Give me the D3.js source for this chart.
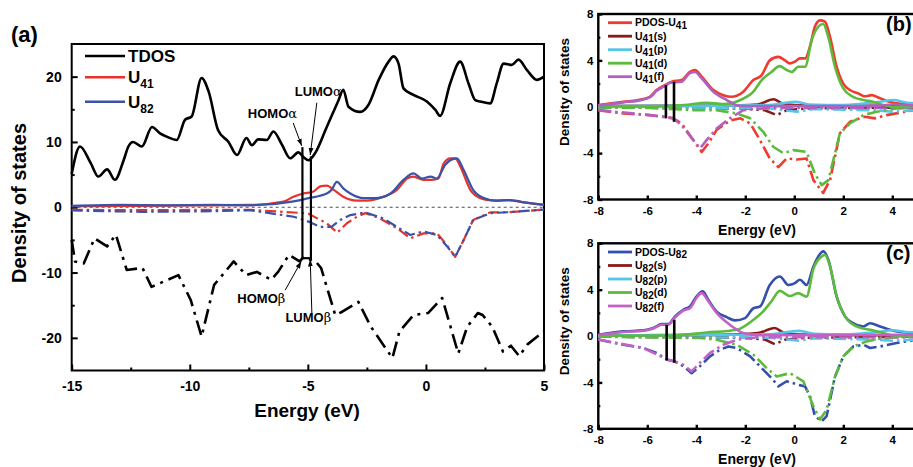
<!DOCTYPE html>
<html>
<head>
<meta charset="utf-8">
<script src="https://cdn.jsdelivr.net/npm/d3@7"></script>
<style>
  body { margin: 0; background: #fff; }
  svg { display: block; font-family: Arial, "Liberation Sans", sans-serif; font-weight: bold; }
</style>
</head>
<body>
<svg id="chart" width="913" height="467"></svg>
<script>
// ---- panel (a): total DOS and U41 / U82, spin up (positive) and spin down (negative) ----
const tdosUp = [[-15,5.1],[-14.65,9.3],[-14.2,6.8],[-13.87,4.7],[-13.5,5.8],[-13.17,4.2],[-12.8,7.2],[-12.6,9.3],[-12.4,10],[-12.03,9.3],[-11.6,12.3],[-11.26,11.3],[-10.97,10.8],[-10.55,10.3],[-10.2,13.4],[-9.92,13.9],[-9.5,19.8],[-9.2,17.7],[-8.8,11.8],[-8.36,10],[-8.0,8],[-7.6,10.6],[-7.37,9.5],[-7.1,10.4],[-6.74,10.3],[-6.46,11.6],[-6.1,9.6],[-5.75,7.5],[-5.4,8.4],[-5.19,7.7],[-4.97,7.2],[-4.69,8.3],[-4.2,12.3],[-3.7,16.4],[-3.5,18],[-3.28,15.4],[-2.78,14.6],[-2.43,15.7],[-2.0,19.5],[-1.58,22.3],[-1.37,23.1],[-1.16,22],[-0.95,18.2],[-0.53,17.2],[0.04,16.2],[0.4,14.9],[0.6,14],[1.03,19],[1.45,22.3],[1.8,19],[2.09,16.4],[2.3,16.2],[2.72,15.9],[3.0,19],[3.29,22],[3.64,21.8],[3.92,22.6],[4.28,21],[4.7,19.5],[5,20]];
const tdosDown = [[-15,-5],[-14.86,-8.3],[-14.49,-8.6],[-14.03,-4.75],[-13.8,-5.3],[-13.5,-6],[-13.13,-4.2],[-12.67,-9.6],[-12.0,-9.3],[-11.62,-12.2],[-10.48,-10.4],[-9.96,-14.2],[-9.5,-19.8],[-8.97,-11.9],[-8.14,-8.3],[-7.61,-10.4],[-7.16,-9.9],[-6.55,-11.1],[-6.26,-9.9],[-5.8,-7.3],[-5.35,-8.3],[-5.2,-7.7],[-4.67,-8.3],[-4.44,-9.3],[-3.84,-16.5],[-3.54,-16],[-2.86,-14.5],[-2.33,-18.3],[-1.42,-23.1],[-1.12,-19],[-0.52,-16.5],[0.09,-16.2],[0.69,-13.9],[1.37,-22.4],[1.75,-18.3],[2.2,-16.2],[2.4,-16.5],[2.81,-18.3],[3.26,-22.1],[3.6,-21.2],[3.95,-22.8],[4.3,-21],[5,-19]];
const u41Up = [[-15,0.15],[-13,0.2],[-11,0.25],[-9,0.3],[-7.45,0.35],[-6.03,0.86],[-5.61,1.6],[-5.19,2.1],[-4.76,2.4],[-4.48,3.2],[-4.2,3.3],[-3.9,2.65],[-3.5,1.6],[-2.92,1.0],[-2.5,1.0],[-1.8,1.6],[-1.23,2.65],[-0.8,4.4],[-0.53,4.7],[-0.1,4.2],[0.25,4.2],[0.53,4.4],[0.75,6.7],[1.03,7.5],[1.24,7.5],[1.45,6.3],[1.88,2.65],[2.3,1.4],[2.87,1.0],[3.4,1.1],[4.25,0.7],[5,0.35]];
const u82Up = [[-15,0.2],[-13,0.35],[-11,0.3],[-9,0.35],[-7.45,0.3],[-5.6,0.9],[-4.97,1.4],[-4.2,2.1],[-4.0,2.65],[-3.77,3.9],[-3.5,2.9],[-3.2,2.1],[-2.64,1.4],[-2.1,1.4],[-1.5,2.1],[-0.95,4.2],[-0.53,5.2],[-0.17,4.4],[0.2,4.7],[0.45,4.4],[0.82,6.5],[1.03,7.2],[1.31,7.5],[1.6,5.7],[2.0,2.65],[2.45,1.4],[3.0,1.0],[3.55,1.1],[4.25,0.7],[5,0.35]];
const u41Down = [[-15,-0.4],[-12,-0.45],[-9,-0.4],[-7.45,-0.4],[-5.6,-0.8],[-5.2,-0.9],[-4.97,-1.0],[-4.6,-1.7],[-4.2,-2.45],[-3.75,-3.9],[-3.35,-2.45],[-2.92,-1.45],[-2.57,-0.9],[-1.95,-1.7],[-1.23,-3.2],[-0.66,-4.75],[-0.1,-4.0],[0.47,-4.0],[0.82,-5.5],[1.24,-7.6],[1.6,-5.0],[2.0,-1.95],[2.72,-0.8],[3.55,-0.75],[5,-0.35]];
const u82Down = [[-15,-0.5],[-12,-0.7],[-9,-0.6],[-7.45,-0.45],[-5.6,-1.45],[-4.97,-2.2],[-4.48,-3.0],[-4.0,-3.0],[-3.63,-1.95],[-3.2,-1.2],[-2.57,-0.8],[-1.8,-1.7],[-1.23,-3.0],[-0.66,-4.25],[-0.1,-3.7],[0.47,-4.25],[0.9,-6.0],[1.24,-7.6],[1.6,-5],[2.0,-1.95],[2.72,-0.9],[3.55,-0.75],[5,-0.35]];

// HOMO/LUMO gap box in (a): [energy, top, bottom]
const gapA = [[-5.23, 9.2, -7.8], [-4.87, 7.8, -7.8]];
// labels: text, label pos [E, D], arrow from, arrow to
const gapLabels = [
  { t: 'HOMO', g: 'α', at: [-6.5, 13.7], from: [-5.62, 12.9], to: [-5.26, 9.4] },
  { t: 'LUMO', g: 'α', at: [-4.56, 17.0], from: [-4.62, 16.0], to: [-4.9, 8.0] },
  { t: 'HOMO', g: 'β', at: [-6.97, -14.7], from: [-5.96, -12.7], to: [-5.28, -8.3] },
  { t: 'LUMO', g: 'β', at: [-4.98, -17.6], from: [-4.83, -16.2], to: [-4.9, -8.0] }
];

// ---- panel (b): PDOS of U41 ----
const pdos41Up = [[-8,0.15],[-6.98,0.43],[-6.37,0.58],[-5.9,0.86],[-5.62,1.44],[-5.28,1.87],[-5.0,2.16],[-4.6,2.3],[-4.26,3.0],[-4.05,3.17],[-3.78,2.6],[-3.3,1.44],[-2.9,1.0],[-2.56,0.86],[-2.08,1.3],[-1.67,2.3],[-1.33,2.73],[-1.0,4.0],[-0.65,4.3],[-0.38,4.0],[-0.18,3.74],[0.03,3.9],[0.23,4.17],[0.44,4.17],[0.64,5.2],[0.84,6.9],[1.05,7.45],[1.25,7.34],[1.46,6.0],[1.73,3.45],[2.0,2.0],[2.27,1.44],[2.61,1.15],[2.88,0.9],[3.16,1.0],[3.43,0.8],[3.77,0.5],[4.18,0.3],[4.72,0.25],[5,0.2]];
const s41Up = [[-8,0.05],[-3,0.1],[-1.5,0.2],[-0.85,0.65],[-0.5,0.3],[0,0.15],[2,0.1],[5,0.05]];
const p41Up = [[-8,0.05],[-3,0.1],[-1,0.15],[0.03,0.43],[0.6,0.2],[2,0.15],[3.4,0.4],[4.04,0.58],[4.6,0.35],[5,0.3]];
const d41Up = [[-8,0.05],[-5.9,0.02],[-4.5,0.15],[-3.58,0.35],[-2.9,0.23],[-2.2,0.58],[-1.67,1.3],[-1.33,2.3],[-0.93,3.0],[-0.6,3.5],[-0.31,3.17],[-0.1,3.0],[0.16,3.45],[0.44,3.45],[0.71,5.76],[0.98,6.9],[1.18,7.14],[1.39,6.0],[1.66,3.45],[2.0,1.58],[2.4,0.86],[2.82,0.58],[3.22,0.43],[3.63,0.15],[4.18,-0.05],[5,0]];
const f41Up = [[-8,0.1],[-6.98,0.38],[-6.37,0.53],[-5.9,0.8],[-5.62,1.38],[-5.28,1.8],[-5.07,2.07],[-4.6,2.16],[-4.26,2.9],[-4.05,3.0],[-3.78,2.45],[-3.3,1.3],[-2.76,0.58],[-2.2,0.06],[-1,0.05],[2,0.05],[3.5,0.1],[4,0.2],[5,0.1]];
const pdos41Down = [[-8,-0.29],[-6.98,-0.58],[-5.9,-0.72],[-5.28,-0.86],[-4.94,-1.0],[-4.6,-1.44],[-4.12,-2.88],[-3.78,-3.9],[-3.51,-3.17],[-3.17,-2.0],[-2.63,-1.2],[-2.2,-1.0],[-1.8,-1.44],[-1.4,-2.88],[-1.0,-4.46],[-0.65,-5.2],[-0.31,-4.46],[0.1,-4.55],[0.5,-4.46],[0.78,-6.33],[1.18,-7.43],[1.46,-6.33],[1.86,-2.3],[2.27,-1.3],[2.88,-0.86],[3.3,-1.0],[3.77,-0.72],[5,-0.25]];
const s41Down = [[-8,-0.05],[-2,-0.15],[-1.2,-0.3],[-0.72,-0.72],[-0.3,-0.3],[0.5,-0.15],[5,-0.05]];
const p41Down = [[-8,-0.05],[-1,-0.15],[0.1,-0.43],[0.8,-0.2],[3.3,-0.3],[4.0,-0.43],[5,-0.3]];
const d41Down = [[-8,-0.05],[-5.9,-0.1],[-4.12,-0.29],[-3.17,-0.29],[-2.35,-0.58],[-1.8,-1.0],[-1.27,-2.16],[-0.86,-3.45],[-0.45,-4.0],[-0.04,-3.74],[0.5,-3.9],[0.84,-5.76],[1.12,-6.76],[1.39,-6.33],[1.86,-2.3],[2.27,-1.44],[2.82,-0.72],[3.36,-0.43],[4.18,-0.14],[5,-0.1]];
const f41Down = [[-8,-0.29],[-5.9,-0.72],[-4.94,-1.0],[-4.6,-1.6],[-4.12,-2.88],[-3.85,-3.6],[-3.58,-2.88],[-3.17,-1.87],[-2.63,-1.0],[-2.08,-0.29],[-1,-0.1],[5,-0.1]];
const gapB = [[-5.24, 1.87, -1.0], [-4.91, 2.16, -1.3]];

// ---- panel (c): PDOS of U82 ----
const pdos82Up = [[-8,0.1],[-6.98,0.4],[-6.16,0.49],[-5.76,0.69],[-5.41,1.03],[-5.14,1.03],[-4.87,1.7],[-4.53,2.27],[-4.26,2.55],[-3.99,3.42],[-3.74,3.85],[-3.51,3.13],[-3.17,2.1],[-2.76,1.63],[-2.42,1.35],[-2.01,1.55],[-1.67,2.4],[-1.4,2.55],[-1.0,4.4],[-0.59,5.14],[-0.24,4.4],[0.03,4.57],[0.23,4.85],[0.5,4.4],[0.78,6.0],[0.98,6.87],[1.18,7.3],[1.39,6.58],[1.73,3.4],[2.07,1.7],[2.41,1.1],[2.82,0.83],[3.09,1.1],[3.5,0.83],[3.9,0.54],[4.84,0.26],[5,0.25]];
const s82Up = [[-8,0.05],[-3,0.1],[-1.5,0.25],[-0.8,0.7],[-0.45,0.3],[0,0.15],[2,0.1],[5,0.05]];
const p82Up = [[-8,0.05],[-3,0.1],[-1,0.15],[0.2,0.45],[0.8,0.2],[2,0.15],[3.4,0.35],[4.0,0.5],[4.6,0.35],[5,0.3]];
const d82Up = [[-8,0.02],[-5,0.05],[-3.58,0.3],[-2.35,0.54],[-1.67,1.4],[-1.33,2.0],[-0.93,3.0],[-0.59,3.9],[-0.18,3.45],[0.16,3.7],[0.5,3.4],[0.78,5.8],[1.12,6.87],[1.25,7.0],[1.46,6.0],[1.73,3.4],[2.07,1.7],[2.54,0.83],[3.09,0.54],[3.63,0.26],[4.18,0],[5,-0.05]];
const f82Up = [[-8,0.08],[-6.98,0.35],[-6.16,0.45],[-5.76,0.65],[-5.41,0.97],[-5.14,0.98],[-4.87,1.6],[-4.53,2.2],[-4.26,2.4],[-3.99,3.3],[-3.78,3.7],[-3.51,3.0],[-3.17,2.0],[-2.63,0.97],[-2.08,0.26],[-1.5,0.08],[5,0.1]];
const pdos82Down = [[-8,-0.3],[-6.98,-0.75],[-6.16,-1.03],[-5.62,-1.46],[-5.2,-2.04],[-4.87,-2.18],[-4.53,-2.6],[-4.19,-3.2],[-3.85,-2.6],[-3.44,-1.75],[-3.03,-1.18],[-2.69,-0.9],[-2.35,-1.03],[-1.8,-1.75],[-1.27,-2.9],[-0.93,-3.62],[-0.65,-4.34],[-0.31,-3.9],[0.16,-4.2],[0.44,-4.34],[0.64,-5.2],[0.84,-6.9],[1.12,-7.35],[1.32,-6.9],[1.66,-3.5],[2.0,-1.75],[2.41,-0.9],[2.82,-0.75],[3.09,-1.03],[3.5,-0.9],[4.18,-0.6],[5,-0.3]];
const s82Down = [[-8,-0.05],[-2,-0.15],[-1.2,-0.3],[-0.8,-0.7],[-0.35,-0.3],[0.5,-0.15],[5,-0.05]];
const p82Down = [[-8,-0.05],[-1,-0.15],[0.2,-0.4],[0.8,-0.2],[3.3,-0.3],[4.0,-0.4],[5,-0.3]];
const d82Down = [[-8,-0.05],[-3.85,-0.17],[-3.17,-0.32],[-2.35,-0.75],[-1.67,-1.6],[-1.13,-2.76],[-0.72,-3.48],[-0.18,-3.2],[0.37,-3.9],[0.78,-6.06],[1.05,-7.2],[1.32,-6.35],[1.66,-3.5],[2.0,-1.75],[2.41,-0.9],[2.95,-0.46],[3.63,-0.17],[5,-0.05]];
const f82Down = [[-8,-0.3],[-6.16,-1.03],[-5.2,-2.0],[-4.53,-2.47],[-4.19,-3.05],[-3.85,-2.3],[-3.44,-1.46],[-2.9,-0.75],[-2.35,-0.32],[-1.5,-0.1],[5,-0.1]];
const gapC = [[-5.21, 0.97, -2.1], [-4.9, 1.4, -2.3]];

// ticks
const xTicksA = [-15, -10, -5, 0, 5];
const xMinorA = [-12.5, -7.5, -2.5, 2.5];
const yTicksA = [-20, -10, 0, 10, 20];
const yMinorA = [-15, -5, 5, 15];
const xTicksB = [-8, -6, -4, -2, 0, 2, 4];
const yTicksB = [-8, -4, 0, 4, 8];
const yMinorB = [-6, -2, 2, 6];

const C = {
  black: '#000', red: '#e8332b', blue: '#3a52a8',
  pred: '#ef3a2f', pblue: '#3450ab', maroon: '#8a1b1b', cyan: '#56c6e8', green: '#5cba3c', purple: '#b060c0', magenta: '#c262c6'
};

const svg = d3.select('#chart');

svg.append('defs').append('marker')
  .attr('id', 'arr').attr('viewBox', '0 0 10 10').attr('refX', 10).attr('refY', 5)
  .attr('markerWidth', 7).attr('markerHeight', 7).attr('markerUnits', 'userSpaceOnUse')
  .attr('orient', 'auto')
  .append('path').attr('d', 'M0,1.5L10,5L0,8.5z').attr('fill', '#000');

// draws inward ticks, labels and the box
function axesFrame(x, y, o) {
  const [x0, x1] = x.range();
  const [y1, y0] = y.range();
  const g = svg.append('g');
  const fmt = d => String(d);

  g.append('g').attr('transform', `translate(0,${y1})`)
    .call(d3.axisBottom(x).tickValues(o.xt).tickSize(-o.tick).tickPadding(o.padX).tickFormat(fmt));
  if (o.xm) g.append('g').attr('transform', `translate(0,${y1})`)
    .call(d3.axisBottom(x).tickValues(o.xm).tickSize(-o.tick / 2).tickFormat(''));
  g.append('g').attr('transform', `translate(${x0},0)`)
    .call(d3.axisLeft(y).tickValues(o.yt).tickSize(-o.tick).tickPadding(o.padY).tickFormat(fmt));
  if (o.ym) g.append('g').attr('transform', `translate(${x0},0)`)
    .call(d3.axisLeft(y).tickValues(o.ym).tickSize(-o.tick / 2).tickFormat(''));

  g.selectAll('.domain').remove();
  g.selectAll('.tick line').attr('stroke', '#000').attr('stroke-width', o.sw);
  g.selectAll('.tick text').attr('fill', '#000').attr('font-size', o.fs)
    .attr('font-weight', 'bold').attr('font-family', 'Arial, "Liberation Sans", sans-serif');

  g.append('rect').attr('x', x0).attr('y', y0).attr('width', x1 - x0).attr('height', y1 - y0)
    .attr('fill', 'none').attr('stroke', '#000').attr('stroke-width', o.sw);
}

function curve(x, y, data, color, w, dash, smooth) {
  const line = d3.line().x(d => x(d[0])).y(d => y(d[1]))
    .curve(smooth ? d3.curveMonotoneX : d3.curveLinear);
  svg.append('path').datum(data).attr('d', line)
    .attr('fill', 'none').attr('stroke', color).attr('stroke-width', w)
    .attr('stroke-linejoin', 'round')
    .attr('stroke-dasharray', dash || null);
}

function gapBars(x, y, data, w, closed) {
  data.forEach(d => {
    svg.append('line').attr('x1', x(d[0])).attr('x2', x(d[0]))
      .attr('y1', y(d[1])).attr('y2', y(d[2]))
      .attr('stroke', '#000').attr('stroke-width', w);
  });
  if (closed) {
    svg.append('line').attr('x1', x(data[0][0]) - w / 2).attr('x2', x(data[1][0]) + w / 2)
      .attr('y1', y(data[0][2])).attr('y2', y(data[1][2]))
      .attr('stroke', '#000').attr('stroke-width', w);
  }
}

function subText(sel, main, sub, tail, subSize, dy) {
  sel.append('tspan').text(main);
  sel.append('tspan').attr('font-size', subSize).attr('dy', dy).text(sub);
  if (tail) sel.append('tspan').attr('dy', -dy).text(tail);
}

// ================= panel (a) =================
const xA = d3.scaleLinear().domain([-15, 5]).range([71.7, 544]);
const yA = d3.scaleLinear().domain([-25, 25]).range([370.5, 44]);

axesFrame(xA, yA, { xt: xTicksA, xm: xMinorA, yt: yTicksA, ym: yMinorA, tick: 6, padX: 11, padY: 10, fs: 14, sw: 2 });

svg.append('line').attr('x1', xA(-15)).attr('x2', xA(5)).attr('y1', yA(0)).attr('y2', yA(0))
  .attr('stroke', '#222').attr('stroke-width', 0.8).attr('stroke-dasharray', '3,3');

curve(xA, yA, tdosUp, C.black, 2.6, null, true);
curve(xA, yA, tdosDown, C.black, 2.6, '15,6,3,6', false);
curve(xA, yA, u41Up, C.red, 2.2, null, true);
curve(xA, yA, u41Down, C.red, 2.2, '11,4,2.5,4', false);
curve(xA, yA, u82Up, C.blue, 2.2, null, true);
curve(xA, yA, u82Down, C.blue, 2.2, '11,4,2.5,4', false);

gapBars(xA, yA, gapA, 2.2, true);

gapLabels.forEach(l => {
  const t = svg.append('text').attr('x', xA(l.at[0])).attr('y', yA(l.at[1]))
    .attr('text-anchor', 'middle').attr('font-size', 13);
  t.append('tspan').text(l.t);
  t.append('tspan').attr('font-family', '"DejaVu Serif", serif').attr('font-weight', 'normal').text(l.g);
  svg.append('line').attr('x1', xA(l.from[0])).attr('y1', yA(l.from[1]))
    .attr('x2', xA(l.to[0])).attr('y2', yA(l.to[1]))
    .attr('stroke', '#000').attr('stroke-width', 1).attr('marker-end', 'url(#arr)');
});

// legend (a)
const legA = [
  { name: 'TDOS', color: C.black, y: 56 },
  { name: 'U', sub: '41', color: C.red, y: 77.3 },
  { name: 'U', sub: '82', color: C.blue, y: 101.7 }
];
legA.forEach(d => {
  svg.append('line').attr('x1', 85).attr('x2', 125).attr('y1', d.y).attr('y2', d.y)
    .attr('stroke', d.color).attr('stroke-width', 2.6);
  const t = svg.append('text').attr('x', 128).attr('y', d.y + 6).attr('font-size', 17);
  if (d.sub) subText(t, d.name, d.sub, null, 12, 5);
  else t.text(d.name);
});

svg.append('text').attr('x', 307).attr('y', 417).attr('text-anchor', 'middle').attr('font-size', 19).text('Energy (eV)');
svg.append('text').attr('transform', 'translate(26,203) rotate(-90)').attr('text-anchor', 'middle').attr('font-size', 20).text('Density of states');
svg.append('text').attr('x', 11).attr('y', 42).attr('font-size', 22).text('(a)');

// ================= panels (b) and (c) =================
function pdosPanel(top, seriesUp, seriesDown, colors, gap, tag, atom) {
  const x = d3.scaleLinear().domain([-8, 5]).range([598.3, 598.3 + 13 * 24.5]);
  const y = d3.scaleLinear().domain([-8, 8]).range([top + 185.5, top]);
  axesFrame(x, y, { xt: xTicksB, yt: yTicksB, ym: yMinorB, tick: 4, padX: 7, padY: 5, fs: 11.5, sw: 2.4 });

  seriesDown.forEach((s, i) => curve(x, y, s, colors[i], 2.6, '13,4,2.5,4', false));
  seriesUp.forEach((s, i) => curve(x, y, s, colors[i], 2.6, null, true));
  gapBars(x, y, gap, 2.6, false);

  const names = [['PDOS-U', ''], ['U', '(s)'], ['U', '(p)'], ['U', '(d)'], ['U', '(f)']];
  names.forEach((n, i) => {
    const ly = top + 8.7 + i * 13.5;
    svg.append('line').attr('x1', 608).attr('x2', 632).attr('y1', ly).attr('y2', ly)
      .attr('stroke', colors[i]).attr('stroke-width', 2.8);
    const t = svg.append('text').attr('x', 635).attr('y', ly + 3.5).attr('font-size', 10.5);
    subText(t, n[0], atom, n[1], 10, 2.5);
  });

  svg.append('text').attr('x', 757).attr('y', top + 221).attr('text-anchor', 'middle').attr('font-size', 14).text('Energy (eV)');
  svg.append('text').attr('transform', `translate(569,${top + 78}) rotate(-90)`).attr('text-anchor', 'middle')
    .attr('font-size', 13.5).text('Density of states');
  svg.append('text').attr('x', 886).attr('y', top + 17).attr('font-size', 20).text(tag);
}

pdosPanel(14,
  [pdos41Up, s41Up, p41Up, d41Up, f41Up],
  [pdos41Down, s41Down, p41Down, d41Down, f41Down],
  [C.pred, C.maroon, C.cyan, C.green, C.purple], gapB, '(b)', '41');

pdosPanel(243.3,
  [pdos82Up, s82Up, p82Up, d82Up, f82Up],
  [pdos82Down, s82Down, p82Down, d82Down, f82Down],
  [C.pblue, C.maroon, C.cyan, C.green, C.magenta], gapC, '(c)', '82');
</script>
</body>
</html>
